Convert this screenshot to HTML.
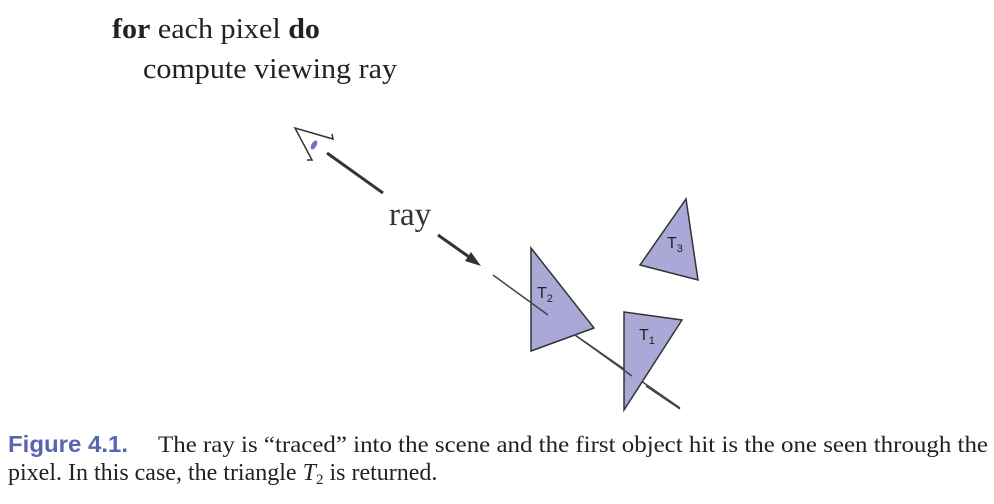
<!DOCTYPE html>
<html><head><meta charset="utf-8"><style>
html,body{margin:0;padding:0;background:#fff;width:994px;height:504px;overflow:hidden}
</style></head><body>
<svg width="994" height="504" viewBox="0 0 994 504">
<g font-family="Liberation Serif, serif" fill="#222">
<text x="112" y="38" font-size="29" textLength="208" lengthAdjust="spacingAndGlyphs"><tspan font-weight="bold">for</tspan> each pixel <tspan font-weight="bold">do</tspan></text>
<text x="143" y="78" font-size="29" textLength="254" lengthAdjust="spacingAndGlyphs">compute viewing ray</text>
</g>
<g stroke="#333" stroke-width="1.5" fill="none">
<polyline points="332,134 333,139 295,128 312,160 307,160"/>
<ellipse cx="314" cy="145" rx="2.5" ry="5" fill="#6f72c8" stroke="none" transform="rotate(30 314 145)"/>
</g>
<line x1="327" y1="153" x2="383" y2="193" stroke="#333" stroke-width="3"/>
<text x="389" y="225" font-family="Liberation Serif, serif" font-size="33" fill="#333">ray</text>
<g>
<line x1="438" y1="235" x2="472" y2="259" stroke="#333" stroke-width="3"/>
<polygon points="481,266 465,261 471,252" fill="#333"/>
</g>
<polygon points="686,199 698,280 640,265" fill="#a9a8d6" stroke="#333" stroke-width="1.5"/>
<line x1="575" y1="335" x2="680" y2="408" stroke="#444" stroke-width="1.5"/>
<polygon points="531,248 594,328 531,351" fill="#a9a8d6" stroke="#333" stroke-width="1.5"/>
<polygon points="624,312 682,320 624,410" fill="#a9a8d6" stroke="#333" stroke-width="1.5"/>
<line x1="493" y1="275" x2="548" y2="315" stroke="#444" stroke-width="1.5"/>
<line x1="575" y1="335" x2="632" y2="376" stroke="#444" stroke-width="1.5"/>
<line x1="646" y1="386" x2="680" y2="409" stroke="#444" stroke-width="1.5"/>
<g font-family="Liberation Sans, sans-serif" font-size="16" fill="#222">
<text x="537" y="298">T<tspan font-size="11" dy="4">2</tspan></text>
<text x="639" y="340">T<tspan font-size="11" dy="4">1</tspan></text>
<text x="667" y="248">T<tspan font-size="11" dy="4">3</tspan></text>
</g>
<g>
<text x="8" y="452" font-family="Liberation Sans, sans-serif" font-weight="bold" font-size="23" fill="#5a63b0" textLength="120" lengthAdjust="spacingAndGlyphs">Figure 4.1.</text>
<text x="158" y="452" font-family="Liberation Serif, serif" font-size="23" fill="#222" textLength="830" lengthAdjust="spacingAndGlyphs">The ray is “traced” into the scene and the first object hit is the one seen through the</text>
<text x="8" y="480" font-family="Liberation Serif, serif" font-size="24" fill="#222">pixel. In this case, the triangle <tspan font-style="italic">T</tspan><tspan font-size="15" dy="4">2</tspan><tspan dy="-4"> is returned.</tspan></text>
</g>
</svg>
</body></html>
